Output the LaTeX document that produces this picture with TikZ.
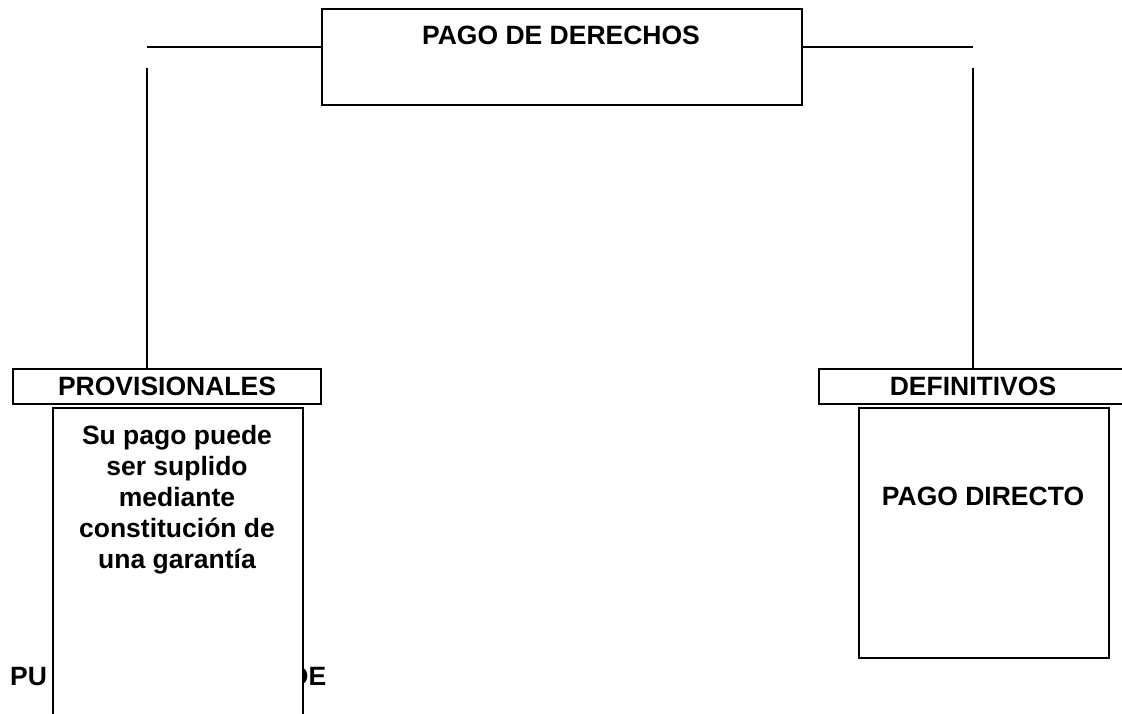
\documentclass[tikz,border=0pt]{standalone}
\usepackage{fontspec}
\setmainfont{Liberation Sans}
\begin{document}
\begin{tikzpicture}[x=1pt,y=-1pt,
  every node/.style={font=\bfseries\fontsize{26.5}{31}\selectfont, inner sep=0pt},
  boxstyle/.style={draw, line width=1.8pt, fill=white},
  conn/.style={line width=1.8pt}]
\useasboundingbox (0,0) rectangle (1122,714);
\clip (0,0) rectangle (1122,714);
% partly hidden text behind the left box
\node[anchor=base west] (hid) at (10,685) {\makebox[316pt][s]{PU\hfill DE}};
% top box
\node[boxstyle, minimum width=480pt, minimum height=96pt, anchor=north west] (top) at (321,8) {};
\node (toptext) at (561,35) {PAGO DE DERECHOS};
% category boxes
\node[boxstyle, minimum width=308pt, minimum height=35pt] (prov) at (167,386.5) {PROVISIONALES};
\node[boxstyle, minimum width=308pt, minimum height=35pt] (def) at (973,386.5) {DEFINITIVOS};
% content boxes
\node[boxstyle, minimum width=250pt, minimum height=330pt, anchor=north west] (lbox) at (52,407) {};
\node[anchor=north, align=center] (ltext) at (177,425) {Su pago puede\\ser suplido\\mediante\\constitución de\\una garantía};
\node[boxstyle, minimum width=250pt, minimum height=250pt, anchor=north west] (rbox) at (858,407) {};
\node (rtext) at (983,496) {PAGO DIRECTO};
% connectors
\coordinate (lc) at (147,47);
\coordinate (rc) at (973,47);
\coordinate (lv) at (147,68);
\coordinate (rv) at (973,68);
\draw[conn] (top.west |- lc) -- (lc);
\draw[conn] (top.east |- rc) -- (rc);
\draw[conn] (lv) -- (lv |- prov.north);
\draw[conn] (rv) -- (rv |- def.north);
\end{tikzpicture}
\end{document}
